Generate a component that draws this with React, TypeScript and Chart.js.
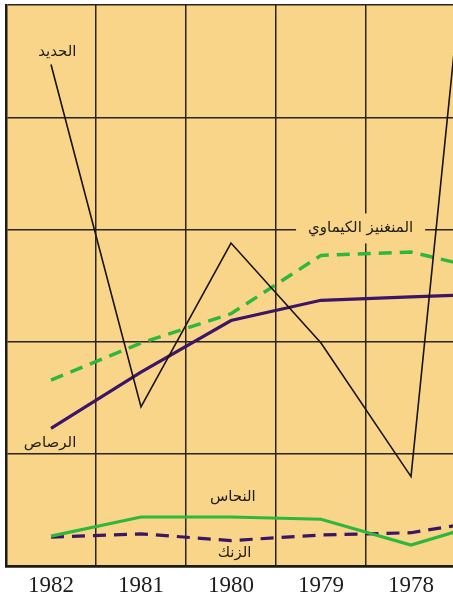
import React, { useEffect, useRef } from "react";
import { Chart, registerables } from "chart.js";

Chart.register(...registerables);

// Years run right-to-left as printed; the last one (1977) lies beyond the cropped edge.
const categories = ["1982", "1981", "1980", "1979", "1978", "1977"];
const iron = [4.47, 1.42, 2.88, 1.99, 0.8, 8.7];
const manganese = [1.66, 1.99, 2.25, 2.77, 2.8, 2.61];
const lead = [1.23, 1.73, 2.19, 2.37, 2.4, 2.43];
const copper = [0.27, 0.44, 0.44, 0.42, 0.19, 0.43];
const zinc = [0.26, 0.29, 0.23, 0.28, 0.3, 0.43];

// Series labels: text, category position, value position
const labelTexts = ["الحديد", "المنغنيز الكيماوي", "الرصاص", "النحاس", "الزنك"];
const labelIdx = [0.07, 3.44, -0.01, 2.02, 2.04];
const labelVal = [4.58, 3.01, 1.1, 0.615, 0.116];
const labelBoxed = [false, true, false, false, false];

const BG = "#F9D58A";
const GREEN = "#2DB83D";
const PURPLE = "#3B1566";
const INK = "#1e1a14";

const bgPlugin = {
  id: "bgFill",
  beforeDraw(chart: any) {
    const { ctx, chartArea: a } = chart;
    ctx.save();
    ctx.fillStyle = BG;
    ctx.fillRect(a.left, a.top, a.right - a.left, a.bottom - a.top);
    ctx.restore();
  },
};

const labelFont = '15px "DejaVu Sans", sans-serif';

const labelPlugin = {
  id: "seriesLabels",
  beforeDatasetsDraw(chart: any) {
    const { ctx, scales } = chart;
    ctx.save();
    ctx.font = labelFont;
    labelTexts.forEach((t, i) => {
      if (!labelBoxed[i]) return;
      const x = scales.x.getPixelForValue(labelIdx[i]);
      const y = scales.y.getPixelForValue(labelVal[i]);
      const w = ctx.measureText(t).width;
      ctx.fillStyle = BG;
      ctx.fillRect(x - w / 2 - 12, y - 15, w + 24, 30);
    });
    ctx.restore();
  },
  afterDatasetsDraw(chart: any) {
    const { ctx, scales } = chart;
    ctx.save();
    ctx.font = labelFont;
    ctx.fillStyle = INK;
    ctx.textAlign = "center";
    ctx.textBaseline = "middle";
    (ctx as any).direction = "rtl";
    labelTexts.forEach((t, i) => {
      const x = scales.x.getPixelForValue(labelIdx[i]);
      const y = scales.y.getPixelForValue(labelVal[i]);
      ctx.fillText(t, x, y);
    });
    ctx.restore();
  },
};

export default function App() {
  const ref = useRef<HTMLCanvasElement | null>(null);

  useEffect(() => {
    if (!ref.current) return;
    const chart = new Chart(ref.current, {
      type: "line",
      data: {
        labels: categories,
        datasets: [
          { label: "الحديد", data: iron, borderColor: "#161310", borderWidth: 1.6 },
          { label: "المنغنيز الكيماوي", data: manganese, borderColor: GREEN, borderWidth: 3.5, borderDash: [13, 8] },
          { label: "الرصاص", data: lead, borderColor: PURPLE, borderWidth: 3.2 },
          { label: "النحاس", data: copper, borderColor: GREEN, borderWidth: 3.2 },
          { label: "الزنك", data: zinc, borderColor: PURPLE, borderWidth: 3.2, borderDash: [13, 8] },
        ],
      },
      options: {
        animation: false,
        responsive: true,
        maintainAspectRatio: false,
        layout: { padding: { left: 6, top: 5, right: 0, bottom: 0 } },
        elements: { point: { radius: 0, hoverRadius: 0 }, line: { tension: 0, fill: false } },
        plugins: { legend: { display: false }, tooltip: { enabled: false } },
        scales: {
          x: {
            type: "category",
            offset: true,
            grid: { offset: true, color: "#2b2318", lineWidth: 1.5, drawTicks: false },
            border: { color: INK, width: 2.5 },
            ticks: {
              padding: 6,
              color: "#1c1c1c",
              font: { family: '"Liberation Serif", serif', size: 23 },
            },
          },
          y: {
            min: 0,
            max: 5,
            grid: { color: "#2b2318", lineWidth: 1.5, drawTicks: false },
            border: { color: INK, width: 2.5 },
            ticks: { display: false, stepSize: 1 },
          },
        },
      },
      plugins: [bgPlugin, labelPlugin],
    });
    return () => chart.destroy();
  }, []);

  return (
    <div
      style={{
        position: "fixed",
        left: 0,
        top: 0,
        width: 453,
        height: 599,
        overflow: "hidden",
        background: "#ffffff",
      }}
    >
      <div style={{ position: "relative", width: 546, height: 606 }}>
        <canvas ref={ref} />
      </div>
    </div>
  );
}
